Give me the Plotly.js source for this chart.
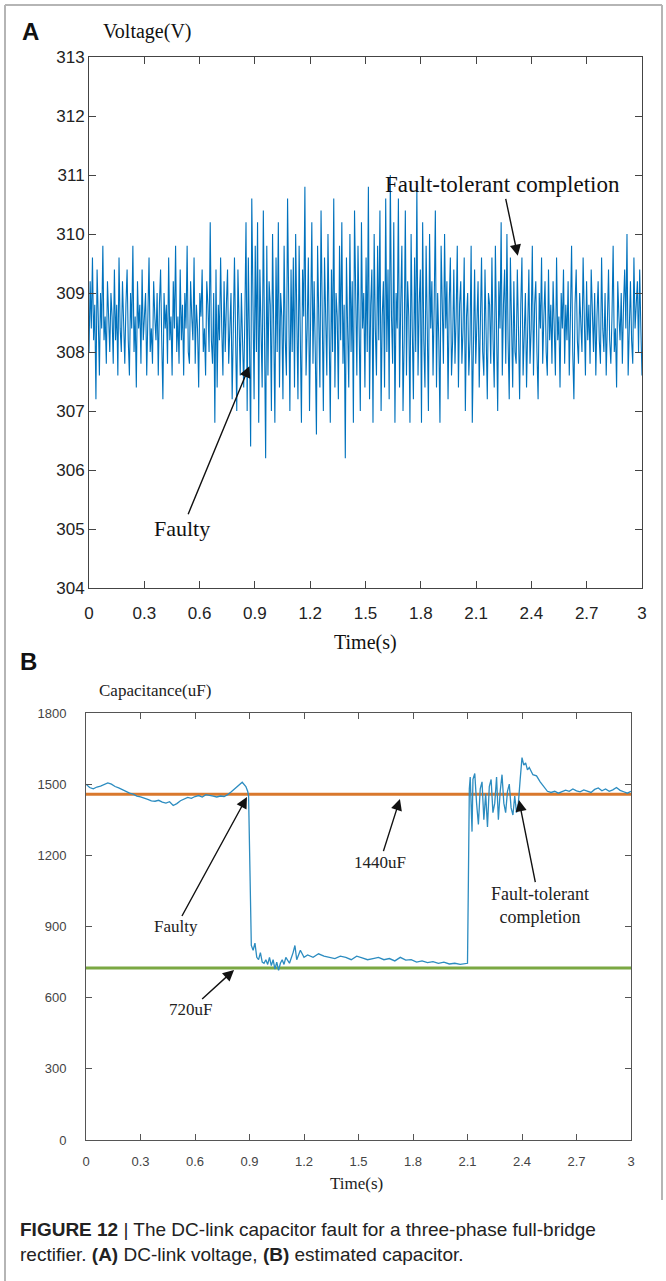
<!DOCTYPE html>
<html><head><meta charset="utf-8">
<script src="https://cdn.plot.ly/plotly-3.0.1.min.js"></script>
<style>html,body{margin:0;padding:0;background:#fff}#chart{width:666px;height:1281px}</style>
</head><body><div id="chart"></div>
<script>
// ---------- Panel A: DC-link voltage (V), sampled uniformly over 0..3 s ----------
const voltage = [
308.0,309.2,308.4,309.6,308.2,308.8,307.2,309.4,308.6,307.6,309.0,308.4,309.8,308.2,308.6,307.8,309.2,308.4,308.0,309.0,
308.6,307.8,309.4,308.2,308.8,307.6,309.6,308.4,308.0,309.2,308.6,307.8,308.8,309.4,308.2,307.6,309.0,308.4,309.8,308.0,
308.6,307.4,309.2,308.4,308.8,307.8,309.4,308.2,308.6,309.0,307.6,308.8,309.6,308.0,308.4,307.8,309.2,308.6,308.2,309.0,
307.6,308.8,309.4,308.2,307.2,309.0,308.4,308.8,307.8,309.6,308.2,308.6,307.6,309.2,308.4,309.8,308.0,308.6,307.8,309.4,
308.2,308.8,307.6,309.0,308.4,309.8,308.0,307.8,309.2,308.6,308.2,309.6,307.8,308.8,308.4,307.4,309.0,308.6,309.4,308.0,
308.4,307.6,309.2,308.8,308.0,310.2,308.2,307.8,309.0,306.8,309.4,307.4,308.8,308.2,309.6,308.4,307.6,309.2,308.0,308.8,
309.4,307.8,308.6,309.0,307.2,308.8,309.6,308.2,307.0,309.4,308.4,307.6,309.0,308.0,307.4,308.6,310.2,307.0,309.6,308.2,
306.4,310.6,308.4,307.2,309.8,308.0,310.2,306.8,309.4,308.6,307.4,310.4,308.2,306.2,309.8,307.6,309.2,308.8,307.0,310.0,
308.4,306.8,309.6,308.0,310.2,307.4,309.0,308.6,307.2,309.8,308.2,307.6,310.6,308.4,307.0,309.4,308.0,309.6,307.4,310.0,
308.8,307.2,309.8,308.2,306.8,309.4,308.6,310.8,307.6,308.4,309.6,307.0,308.8,310.2,307.8,309.2,308.0,306.6,309.8,308.4,
307.4,310.4,308.2,307.0,309.6,308.8,307.6,310.0,308.4,306.8,309.4,308.0,310.6,307.4,309.0,308.6,307.2,309.8,308.2,310.2,
307.8,308.8,306.2,309.6,308.4,307.4,310.0,308.0,309.2,306.8,310.4,308.6,307.6,309.8,308.2,307.0,310.2,308.4,309.0,307.4,
309.6,308.0,310.8,307.2,308.8,309.4,306.8,310.0,308.4,307.6,309.8,308.2,310.4,307.0,308.6,309.2,307.4,310.6,308.0,309.4,
307.2,311.0,308.6,307.8,310.2,306.8,309.0,308.4,310.6,307.4,308.8,309.8,307.0,308.2,310.4,307.6,309.2,308.6,306.8,310.0,
308.4,307.2,309.6,308.0,310.8,307.6,308.8,309.4,306.8,310.2,308.2,307.4,309.8,308.6,307.0,310.0,308.4,309.2,307.6,308.8,
310.4,307.4,309.0,308.2,306.8,309.8,308.6,307.8,310.0,308.4,309.2,307.2,308.8,309.6,307.6,308.2,309.4,307.8,308.6,309.8,
307.4,308.8,309.2,307.8,308.4,309.6,307.0,308.6,309.0,307.6,308.2,309.8,306.8,308.4,309.4,307.8,308.8,309.2,307.4,308.6,
309.6,308.0,307.6,309.4,308.4,307.2,309.0,308.8,307.8,309.6,308.2,307.4,309.8,308.6,307.0,309.2,308.4,310.2,307.6,308.8,
309.4,307.8,310.0,308.2,307.2,309.6,308.6,307.4,309.2,308.0,307.8,309.4,308.4,307.2,308.8,309.6,307.6,308.2,309.0,307.4,
308.6,309.4,307.8,308.4,309.8,307.6,308.8,309.2,308.0,307.2,309.0,308.4,309.6,307.8,308.6,309.2,308.0,307.6,309.4,308.2,
308.8,307.8,309.2,308.4,307.6,309.6,308.2,308.6,307.4,309.0,308.4,309.4,307.8,308.8,308.2,309.2,307.6,308.6,309.8,308.0,
307.2,308.8,309.4,308.2,307.8,309.0,308.6,308.0,309.6,308.4,307.6,309.2,308.2,308.8,307.8,309.4,308.4,308.0,309.0,307.6,
308.6,309.2,308.2,307.8,309.6,308.4,308.0,309.0,307.6,308.8,309.4,308.2,307.8,308.6,309.8,308.0,308.4,307.4,309.2,308.6,
308.2,309.0,307.8,308.8,309.4,308.4,310.0,307.6,308.6,309.2,308.2,307.8,309.6,308.4,308.8,309.2,308.0,309.4,308.4,307.6
];
const timeTicks = [0,0.3,0.6,0.9,1.2,1.5,1.8,2.1,2.4,2.7,3];
const timeTickText = ['0','0.3','0.6','0.9','1.2','1.5','1.8','2.1','2.4','2.7','3'];
const voltTicks = [304,305,306,307,308,309,310,311,312,313];

// ---------- Panel B: estimated capacitance (uF) ----------
const capT = [
0,0.02,0.04,0.06,0.08,0.10,0.12,0.14,0.16,0.18,0.20,0.22,0.24,0.26,0.28,0.30,0.32,0.34,0.36,0.38,
0.40,0.42,0.44,0.46,0.48,0.50,0.52,0.54,0.56,0.58,0.60,0.62,0.64,0.66,0.68,0.70,0.72,0.74,0.76,0.78,
0.80,0.82,0.84,0.86,0.88,0.89,0.895,0.90,0.905,0.91,0.92,0.93,0.94,0.95,0.96,0.97,0.98,0.99,1.00,1.01,
1.02,1.03,1.04,1.05,1.06,1.07,1.08,1.09,1.10,1.12,1.14,1.15,1.16,1.18,1.20,1.22,1.25,1.28,1.31,1.34,
1.37,1.40,1.43,1.46,1.49,1.52,1.55,1.58,1.61,1.64,1.67,1.70,1.73,1.76,1.79,1.82,1.85,1.88,1.91,1.94,
1.97,2.00,2.03,2.06,2.09,2.10,2.105,2.11,2.115,2.12,2.125,2.13,2.14,2.15,2.16,2.17,2.18,2.19,2.20,2.21,
2.22,2.23,2.24,2.25,2.26,2.27,2.28,2.29,2.30,2.31,2.32,2.33,2.34,2.35,2.36,2.37,2.38,2.39,2.40,2.41,
2.42,2.43,2.44,2.46,2.48,2.50,2.52,2.54,2.56,2.58,2.60,2.62,2.64,2.66,2.68,2.70,2.72,2.74,2.76,2.78,
2.80,2.82,2.84,2.86,2.88,2.90,2.92,2.94,2.96,2.98,3.00
];
const capVal = [
1500,1486,1480,1488,1492,1498,1505,1500,1490,1484,1476,1468,1462,1458,1450,1446,1442,1436,1430,1428,
1432,1424,1420,1426,1410,1418,1430,1438,1444,1440,1448,1452,1446,1456,1454,1450,1446,1450,1448,1456,
1468,1482,1498,1508,1490,1470,1450,1200,900,820,800,830,770,760,790,750,745,760,740,770,
735,760,720,750,715,745,760,740,770,745,790,820,760,800,770,780,770,785,775,770,
765,775,770,760,775,768,760,765,770,760,765,755,770,758,760,750,755,748,752,745,
750,742,745,740,742,745,1100,1480,1530,1380,1300,1520,1545,1420,1330,1480,1510,1350,1460,1320,
1490,1520,1380,1420,1530,1350,1470,1540,1420,1380,1470,1500,1400,1370,1450,1380,1420,1520,1612,1580,
1590,1560,1570,1540,1535,1510,1490,1470,1465,1470,1462,1468,1475,1470,1480,1472,1468,1476,1470,1465,
1478,1484,1472,1480,1470,1476,1486,1474,1468,1462,1470
];
const capTicks = [0,300,600,900,1200,1500,1800];
const refHigh = 1458;   // drawn "1440uF" reference line
const refLow = 725;     // drawn "720uF" reference line

// ---------- layout helpers (pixel -> paper) ----------
const W = 666, H = 1281;
const fx = px => px / W;
const fy = py => 1 - py / H;

const voltT = voltage.map((v, i) => i * 3 / (voltage.length - 1));

const SERIF = 'Liberation Serif, Times New Roman, serif';
const SANS = 'Liberation Sans, Arial, sans-serif';

const traces = [
  {x: voltT, y: voltage, xaxis: 'x', yaxis: 'y', mode: 'lines',
   line: {color: '#0072BD', width: 1.1}, hoverinfo: 'skip'},
  {x: [0, 3], y: [refHigh, refHigh], xaxis: 'x2', yaxis: 'y2', mode: 'lines',
   line: {color: '#D9782D', width: 3}, hoverinfo: 'skip'},
  {x: [0, 3], y: [refLow, refLow], xaxis: 'x2', yaxis: 'y2', mode: 'lines',
   line: {color: '#7BA843', width: 3}, hoverinfo: 'skip'},
  {x: capT, y: capVal, xaxis: 'x2', yaxis: 'y2', mode: 'lines',
   line: {color: '#2C8CC0', width: 1.3}, hoverinfo: 'skip'}
];

const axA = {
  ticks: 'inside', ticklen: 7, tickcolor: '#444', showline: true, linecolor: '#444',
  linewidth: 1, mirror: 'ticks', showgrid: false, zeroline: false,
  tickfont: {family: SANS, size: 17, color: '#222'}
};
const axB = {
  ticks: 'inside', ticklen: 6, tickcolor: '#555', showline: true, linecolor: '#555',
  linewidth: 1, mirror: 'ticks', showgrid: false, zeroline: false,
  tickfont: {family: SANS, size: 13, color: '#444'}
};

const arrow = {showarrow: true, arrowhead: 2, arrowsize: 1.6, arrowwidth: 1.4, arrowcolor: '#111', standoff: 0};
// centred paper-anchored label
const lab = (px, py, text, font, extra) => Object.assign({xref: 'paper', yref: 'paper', x: fx(px), y: fy(py),
  xanchor: 'center', yanchor: 'middle', text: text, showarrow: false, font: font}, extra || {});

const layout = {
  width: W, height: H, margin: {l: 0, r: 0, t: 0, b: 0},
  paper_bgcolor: '#fff', plot_bgcolor: '#fff', showlegend: false,
  xaxis: Object.assign({}, axA, {domain: [fx(89), fx(642)], range: [0, 3], anchor: 'y',
    tickvals: timeTicks, ticktext: timeTickText, ticklabelstandoff: 10}),
  yaxis: Object.assign({}, axA, {domain: [fy(588), fy(57)], range: [304, 313], anchor: 'x',
    tickvals: voltTicks}),
  xaxis2: Object.assign({}, axB, {domain: [fx(86), fx(631)], range: [0, 3], anchor: 'y2',
    tickvals: timeTicks, ticktext: timeTickText, ticklabelstandoff: 9}),
  yaxis2: Object.assign({}, axB, {domain: [fy(1140), fy(713)], range: [0, 1800], anchor: 'x2',
    tickvals: capTicks, ticklabelstandoff: 16}),
  shapes: [
    {type: 'line', xref: 'paper', yref: 'paper', x0: fx(5), x1: fx(662), y0: fy(5), y1: fy(5), line: {color: '#b5b5b5', width: 2}},
    {type: 'line', xref: 'paper', yref: 'paper', x0: fx(5), x1: fx(5), y0: fy(5), y1: fy(1281), line: {color: '#b5b5b5', width: 2}},
    {type: 'line', xref: 'paper', yref: 'paper', x0: fx(662), x1: fx(662), y0: fy(5), y1: fy(1200), line: {color: '#b5b5b5', width: 2}}
  ],
  annotations: [
    lab(30, 31, '<b>A</b>', {family: SANS, size: 24, color: '#111'}),
    lab(147, 31, 'Voltage(V)', {family: SERIF, size: 20, color: '#111'}),
    lab(365, 642, 'Time(s)', {family: SERIF, size: 20, color: '#111'}),
    Object.assign({xref: 'x', yref: 'y', x: 0.87, y: 307.76, ax: -67, ay: 162, text: 'Faulty',
     font: {family: SERIF, size: 22, color: '#111'}}, arrow),
    Object.assign({xref: 'x', yref: 'y', x: 2.326, y: 309.63, ax: -15, ay: -71, text: 'Fault-tolerant completion',
     font: {family: SERIF, size: 23, color: '#111'}}, arrow),

    lab(28, 661, '<b>B</b>', {family: SANS, size: 24, color: '#111'}),
    lab(155, 690, 'Capacitance(uF)', {family: SERIF, size: 17, color: '#222'}),
    lab(356, 1183, 'Time(s)', {family: SERIF, size: 17, color: '#222'}),
    Object.assign({xref: 'x2', yref: 'y2', x: 0.886, y: 1446, ax: -71, ay: 130, text: 'Faulty',
     font: {family: SERIF, size: 17, color: '#222'}}, arrow),
    Object.assign({xref: 'x2', yref: 'y2', x: 1.728, y: 1437, ax: -20, ay: 63, text: '1440uF',
     font: {family: SERIF, size: 17, color: '#222'}}, arrow),
    Object.assign({xref: 'x2', yref: 'y2', x: 2.383, y: 1433, ax: 21, ay: 105, text: 'Fault-tolerant<br>completion',
     font: {family: SERIF, size: 18, color: '#222'}}, arrow),
    Object.assign({xref: 'x2', yref: 'y2', x: 0.815, y: 717, ax: -44, ay: 40, text: '720uF',
     font: {family: SERIF, size: 17, color: '#222'}}, arrow),

    lab(18, 1229, '<b>FIGURE 12</b> | The DC-link capacitor fault for a three-phase full-bridge',
     {family: SANS, size: 19, color: '#222'}, {xanchor: 'left'}),
    lab(18, 1254, 'rectifier. <b>(A)</b> DC-link voltage, <b>(B)</b> estimated capacitor.',
     {family: SANS, size: 19, color: '#222'}, {xanchor: 'left'})
  ]
};

Plotly.newPlot('chart', traces, layout, {displayModeBar: false, staticPlot: true});
</script>
</body></html>
